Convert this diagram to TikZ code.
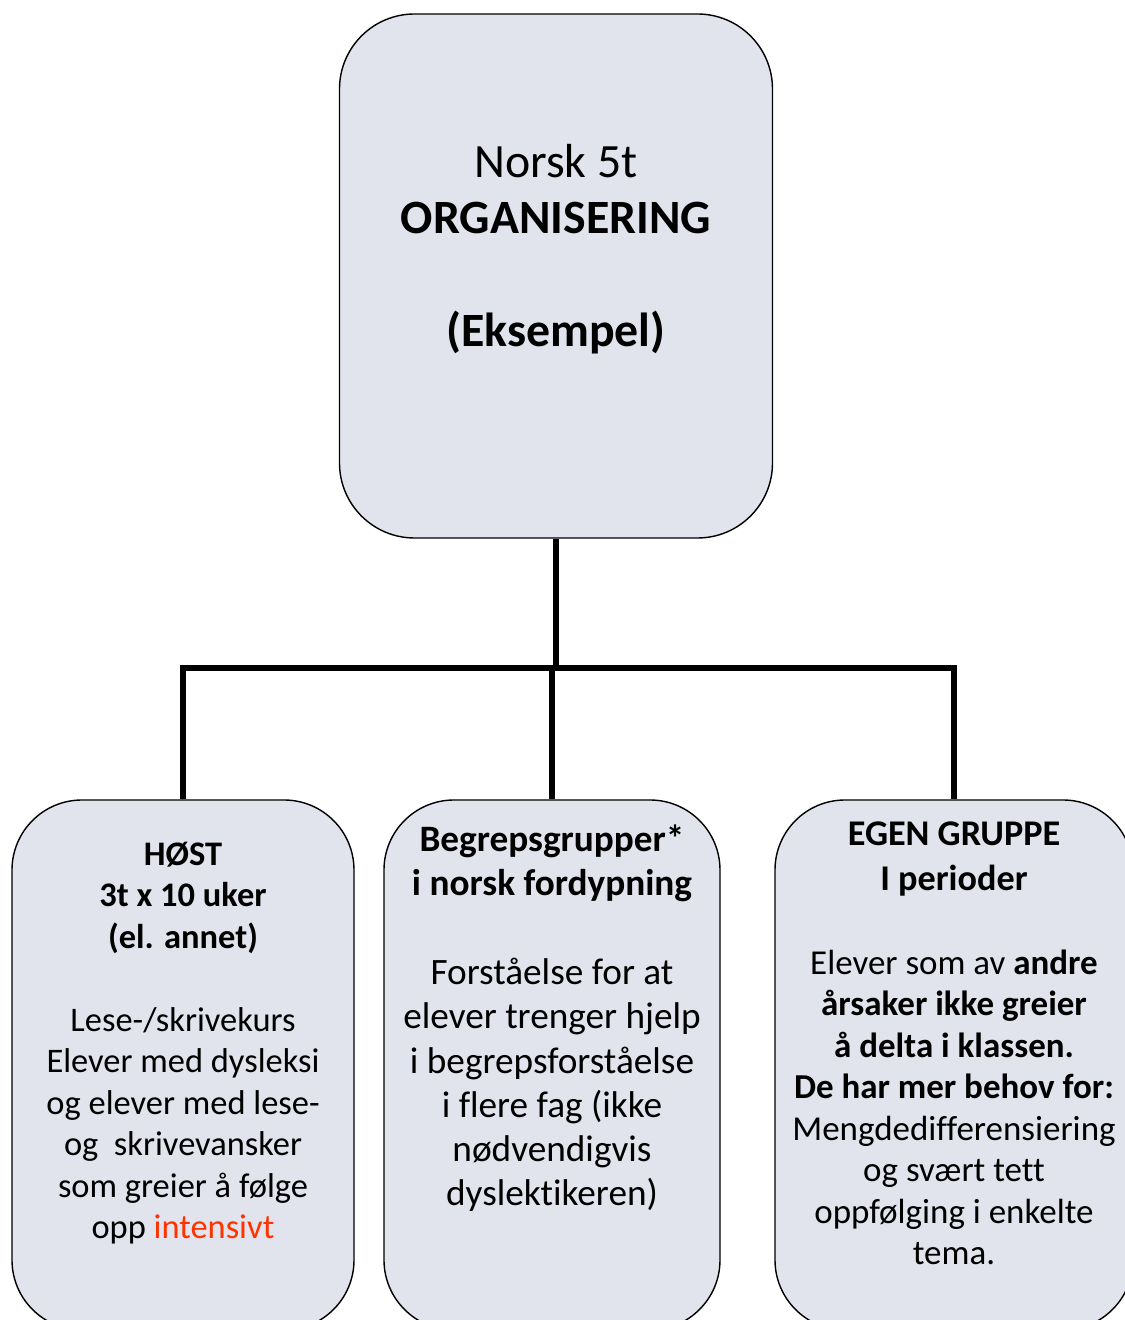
\documentclass[tikz,border=0pt]{standalone}
\usepackage{fontspec}
\setmainfont{Carlito}[Ligatures=NoCommon]
\usepackage{tikz}
\usetikzlibrary{positioning}
\definecolor{boxGray}{RGB}{225,228,236}
\definecolor{hotRed}{RGB}{255,51,0}
\tikzstyle{topRectangle} = [
    rectangle,
    draw,
    fill=boxGray,
    rounded corners=1.5cm,
    minimum width=8.66cm,
    minimum height=10.48cm,
    line width=0.8pt
    ]
\tikzstyle{groupRectangle} = [
    rectangle,
    draw,
    fill=boxGray,
    rounded corners=1.4cm,
    minimum height=10.6cm,
    line width=0.8pt
    ]
\tikzstyle{boxText} = [
    align=center,
    inner sep=0pt,
    font={\fontsize{19.6}{23.6}\selectfont}
    ]
\tikzstyle{connector} = [
    line width=3.2pt
    ]

\begin{document}
\begin{tikzpicture}
      \useasboundingbox (0,0) rectangle (22.5,26.4);
      \clip (0,0) rectangle (22.5,26.4);
      % boxes
      \node[topRectangle] at (11.12,20.88) (org) {};
      \node[groupRectangle, minimum width=6.84cm] at (3.66,5.1) (host) {};
      \node[groupRectangle, minimum width=6.72cm] at (11.04,5.1) (begrep) {};
      \node[groupRectangle, minimum width=7.16cm] at (19.08,5.1) (egen) {};
      % connectors
      \coordinate (split) at (11.12,13.04);
      \draw[connector] (org.south) -- (split);
      \draw[connector] (host.north) |- (split) -| (egen.north);
      \draw[connector] (begrep.north |- split) -- (begrep.north);
      % texts
      \node[boxText, font={\fontsize{27.2}{32}\selectfont}] at (11.12,21.42) (orgText)
        {Norsk 5t\\ \textbf{ORGANISERING}\\[32pt] \textbf{(Eksempel)}};
      \node[boxText] at (3.66,5.54) (hostText)
        {\textbf{HØST}\\ \textbf{3t x 10 uker}\\ \textbf{(el. annet)}\\[23.6pt]
         Lese-/skrivekurs\\ Elever med dysleksi\\ og elever med lese-\\
         og\ \ skrivevansker\\ som greier å følge\\ opp \textcolor{hotRed}{intensivt}};
      \node[boxText, font={\fontsize{21.2}{25.2}\selectfont}] at (11.04,6.03) (begrepText)
        {\textbf{Begrepsgrupper*}\\ \textbf{i norsk fordypning}\\[25.2pt]
         Forståelse for at\\ elever trenger hjelp\\ i begrepsforståelse\\
         i flere fag (ikke\\ nødvendigvis\\ dyslektikeren)};
      \node[boxText, font={\fontsize{19.9}{23.6}\selectfont}] at (19.08,5.53) (egenText)
        {\textbf{\fontsize{20.6}{24.6}\selectfont EGEN GRUPPE}\\[2pt] \textbf{\fontsize{20.6}{24.6}\selectfont I perioder}\\[24pt]
         Elever som av \textbf{andre}\\ \textbf{årsaker ikke greier}\\
         \textbf{å delta i klassen.}\\ \textbf{De har mer behov for:}\\
         Mengdedifferensiering\\ og svært tett\\ oppfølging i enkelte\\ tema.};
    \end{tikzpicture}
\end{document}
